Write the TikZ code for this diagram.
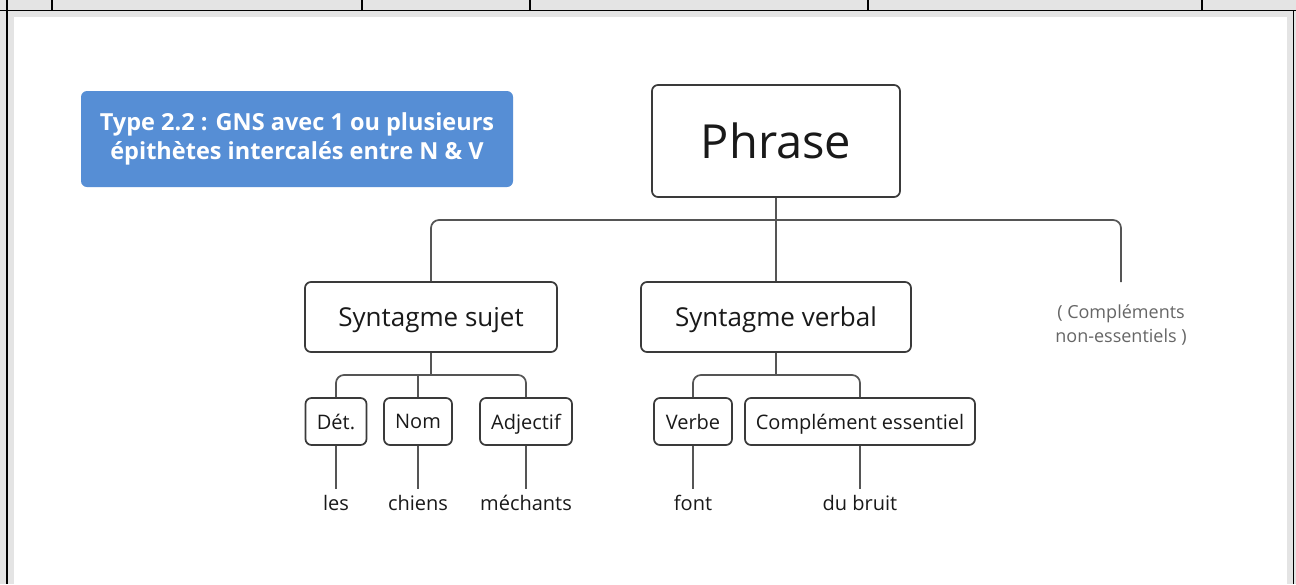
\documentclass[tikz,border=0pt]{standalone}
\usepackage{fontspec}
\setmainfont{Open Sans}
\definecolor{titleblue}{HTML}{568ED5}
\definecolor{boxline}{HTML}{3A3A3A}
\definecolor{linkline}{HTML}{555555}
\definecolor{framegray}{HTML}{E4E4E4}
\definecolor{notegray}{HTML}{666666}

\begin{document}
\begin{tikzpicture}[x=1pt, y=-1pt,
	box/.style={draw=boxline, line width=1.7pt, rounded corners=6pt, fill=white, inner sep=0pt, text depth=0pt, text=black!90},
	link/.style={draw=linkline, line width=1.7pt},
	word/.style={inner sep=0pt, anchor=base, text height=21pt, font=\fontsize{20}{24}\selectfont, text=black!90}]
	
	\useasboundingbox (0,0) rectangle (1296,584);
	\fill[framegray] (0,0) rectangle (1296,584);
	\fill[white] (14,17) rectangle (1287,584);
	\draw[line width=1.5pt] (0,10.5) -- (1296,10.5);
	\draw[line width=1.5pt] (7,0) -- (7,584);
	\draw[line width=1.5pt] (1293.5,10.5) -- (1293.5,584);
	\foreach \x in {52,362,530,868,1202}
		\draw[line width=1.2pt] (\x,0) -- (\x,10.5);
	
	\node[fill=titleblue, rounded corners=6pt, minimum width=432pt, minimum height=96pt, text=white, align=center, font=\bfseries\fontsize{23.5}{31}\selectfont] (type) at (297,139) {\raisebox{-2pt}{Type 2.2 : GNS avec 1 ou plusieurs}\\épithètes intercalés entre N \& V};
	
	\node[box, minimum width=248pt, minimum height=112pt, font=\fontsize{47}{56}\selectfont] (phrase) at (776,141) {Phrase};
	
	\node[box, minimum width=252pt, minimum height=70pt, font=\fontsize{26}{31}\selectfont] (ss) at (431,317) {Syntagme sujet};
	\node[box, minimum width=270pt, minimum height=70pt, font=\fontsize{26}{31}\selectfont] (sv) at (776,317) {Syntagme verbal};
	\node[align=center, text=notegray, font=\fontsize{18}{24}\selectfont] (hors) at (1121,325) {( Compléments\\non-essentiels )};
	\coordinate (horsend) at (1121,282);
	
	\node[box, minimum width=61pt, minimum height=47pt, font=\fontsize{20}{24}\selectfont] (det) at (336,421.5) {Dét.};
	\node[box, minimum width=68pt, minimum height=47pt, font=\fontsize{20}{24}\selectfont] (nom) at (418,421.5) {Nom};
	\node[box, minimum width=92pt, minimum height=47pt, font=\fontsize{20}{24}\selectfont] (adj) at (526,421.5) {Adjectif};
	\node[box, minimum width=78pt, minimum height=47pt, font=\fontsize{20}{24}\selectfont] (verbe) at (693,421.5) {Verbe};
	\node[box, minimum width=230pt, minimum height=47pt, font=\fontsize{20}{24}\selectfont] (ce) at (860,421.5) {Complément essentiel};
	
	\node[word] (les) at (336,510) {les};
	\node[word] (chiens) at (418,510) {chiens};
	\node[word] (mechants) at (526,510) {méchants};
	\node[word] (font) at (693,510) {font};
	\node[word] (bruit) at (860,510) {du bruit};
	
	\coordinate (top) at (776,220);
	\draw[link] (phrase) -- (top);
	\draw[link, rounded corners=8pt] (ss) |- (top) -| (horsend);
	\draw[link] (sv) -- (top);
	
	\coordinate (ssfork) at (431,375);
	\draw[link] (ss) -- (ssfork);
	\draw[link, rounded corners=8pt] (det) |- (ssfork) -| (adj);
	\draw[link] (nom) -- (nom |- ssfork);
	
	\coordinate (svfork) at (776,375);
	\draw[link] (sv) -- (svfork);
	\draw[link, rounded corners=8pt] (verbe) |- (svfork) -| (ce);
	
	\draw[link] (det) -- (les);
	\draw[link] (nom) -- (chiens);
	\draw[link] (adj) -- (mechants);
	\draw[link] (verbe) -- (font);
	\draw[link] (ce) -- (bruit);
	
\end{tikzpicture}
\end{document}
